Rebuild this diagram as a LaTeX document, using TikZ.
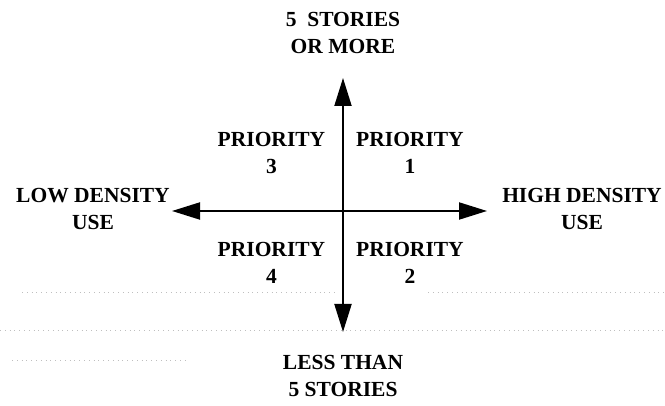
\documentclass[tikz,border=0pt]{standalone}
\usepackage{fontspec}
\setmainfont{Liberation Serif}
\usetikzlibrary{arrows.meta}
\begin{document}
\begin{tikzpicture}[x=1pt,y=1pt,
  lbl/.style={font=\fontsize{21.5}{26.5}\selectfont\bfseries, align=center, inner sep=0pt},
  axis/.style={line width=2pt, -{Triangle[length=28pt,width=17pt]}},
  scanline/.style={black!25, line width=0.5pt, dash pattern=on 0.8pt off 4pt}]
\useasboundingbox (0,0) rectangle (665,406);
% faint dotted rules across the lower part
\draw[scanline] (22,114) -- (337,114);
\draw[scanline] (428,114) -- (665,114);
\draw[scanline] (0,76) -- (665,76);
\draw[scanline] (12,46) -- (188,46);
% axes
\coordinate (o) at (343,195);
\coordinate (up) at (343,328);
\coordinate (dn) at (343,74);
\coordinate (lf) at (172,195);
\coordinate (rt) at (487,195);
\draw[axis] (o) -- (up);
\draw[axis] (o) -- (dn);
\draw[axis] (o) -- (lf);
\draw[axis] (o) -- (rt);
% labels
\node[lbl] (top) at (343,373) {5\ \ STORIES\\OR MORE};
\node[lbl] (bot) at (343,30) {LESS THAN\\5 STORIES};
\node[lbl] (low) at (93,197) {LOW DENSITY\\USE};
\node[lbl] (high) at (582,197) {HIGH DENSITY\\USE};
\node[lbl] (p3) at (271.5,253) {PRIORITY\\3};
\node[lbl] (p1) at (410,253) {PRIORITY\\1};
\node[lbl] (p4) at (271.5,143) {PRIORITY\\4};
\node[lbl] (p2) at (410,143) {PRIORITY\\2};
\end{tikzpicture}
\end{document}
